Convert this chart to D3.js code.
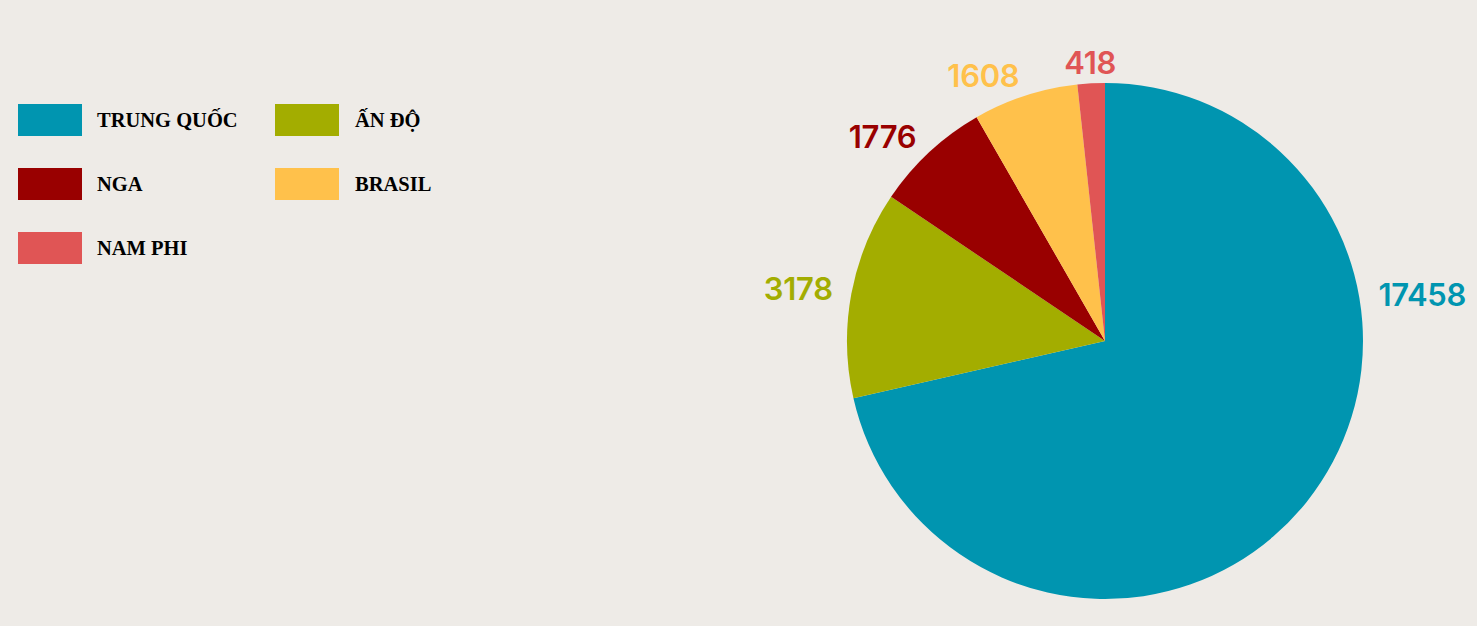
<!DOCTYPE html>
<html>
<head>
<meta charset="utf-8">
<script src="https://cdn.jsdelivr.net/npm/d3@7"></script>
<style>
  html, body { margin: 0; padding: 0; background: #eeebe7; overflow: hidden; }
</style>
</head>
<body>
<div id="chart"></div>
<script>
const countries = ["TRUNG QUỐC", "ẤN ĐỘ", "NGA", "BRASIL", "NAM PHI"]
const values = [17458, 3178, 1776, 1608, 418]
const colors = ["#0095b0", "#a3ad00", "#990000", "#ffc14b", "#e05555"]

const width = 1477
const height = 626

const svg = d3.select("#chart")
    .append("svg")
    .attr("width", width)
    .attr("height", height)

// pie
const cx = 1105, cy = 341, radius = 258

const pie = d3.pie().sort(null).value(d => d)
const arcs = pie(values)

const arc = d3.arc().innerRadius(0).outerRadius(radius)

const g = svg.append("g").attr("transform", `translate(${cx},${cy})`)

g.selectAll("path")
    .data(arcs)
    .enter()
    .append("path")
    .attr("fill", (d, i) => colors[i])
    .attr("d", arc)

// labels sit just outside the rim, clamped so the big slice's label stays on the right
const labelR = 277
g.selectAll("text")
    .data(arcs)
    .enter()
    .append("text")
    .each(function(d, i) {
        let a = (d.startAngle + d.endAngle) / 2
        if (a > Math.PI) a -= 2 * Math.PI
        a = Math.min(a, Math.PI / 2 - 0.16)
        const x = labelR * Math.sin(a)
        const y = -labelR * Math.cos(a)
        const s = Math.sin(a)
        d3.select(this)
            .attr("x", x)
            .attr("y", y - 2)
            .attr("text-anchor", s > 0.1 ? "start" : (s < -0.1 ? "end" : "middle"))
            .attr("dominant-baseline", "central")
            .attr("fill", colors[i])
            .style("font-family", "Inter, 'Noto Sans', sans-serif")
            .style("font-weight", 600)
            .style("font-size", "31px")
            .style("letter-spacing", "-0.3px")
            .text(values[i])
    })

// legend, two columns
const legend = svg.append("g")
const items = legend.selectAll("g")
    .data(countries)
    .enter()
    .append("g")
    .attr("transform", (d, i) => `translate(${18 + (i % 2) * 257},${104 + Math.floor(i / 2) * 64})`)

items.append("rect")
    .attr("width", 64)
    .attr("height", 32)
    .attr("fill", (d, i) => colors[i])

items.append("text")
    .attr("x", (d, i) => i % 2 ? 80 : 79)
    .attr("y", 23)
    .style("font-family", "'Liberation Serif', 'Times New Roman', serif")
    .style("font-weight", "bold")
    .style("font-size", "20.5px")
    .attr("fill", "#000")
    .text(d => d)
</script>
</body>
</html>
